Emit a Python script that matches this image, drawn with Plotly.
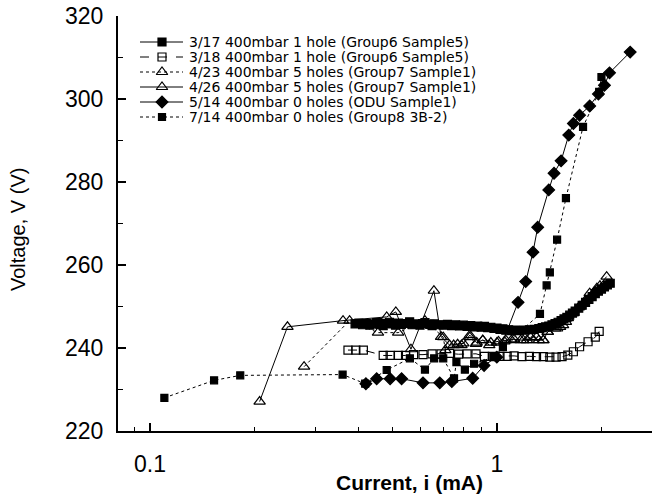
import plotly.graph_objects as go

# ---------------- data ----------------
s317_x = [0.39,0.40,0.41,0.42,0.43,0.44,0.45,0.46,0.47,0.48,0.49,0.50,0.51,0.52,0.53,0.54,0.56,0.57,0.58,0.60,
          0.61,0.62,0.64,0.65,0.66,0.68,0.70,0.72,0.74,0.76,0.78,0.80,0.82,0.84,0.86,0.88,0.90,0.92,0.94,0.96,
          0.98,1.00,1.02,1.04,1.06,1.08,1.10,1.13,1.16,1.20,1.24,1.28,1.32,1.35,1.38,1.41,1.44,1.47,1.50,1.53,
          1.56,1.59,1.62,1.65,1.68,1.72,1.76,1.80,1.84,1.88,1.92,1.96,2.00,2.04,2.08,2.12]
s317_y = [245.8,246.0,245.6,245.9,245.5,245.8,246.1,245.7,245.4,245.9,
          246.2,245.8,245.5,246.0,245.7,245.9,246.3,245.6,245.8,245.5,
          245.9,246.1,245.7,245.4,245.8,245.6,245.5,245.7,245.4,245.6,
          245.3,245.5,245.2,245.4,245.1,245.3,245.0,245.2,244.9,245.0,
          244.7,244.8,244.5,244.6,244.3,244.4,244.2,
          244.3,244.2,244.3,244.4,244.5,244.7,244.9,245.1,245.3,245.6,245.9,246.2,246.6,247.0,
          247.4,247.9,248.4,248.9,249.6,250.3,251.0,251.7,252.4,253.1,253.7,254.2,254.7,255.2,255.6]

s318_x = [0.372,0.392,0.412,0.470,0.492,0.520,0.545,0.575,0.612,0.650,0.690,0.730,0.775,0.820,0.870,0.920,0.970,
          1.020,1.070,1.120,1.180,1.240,1.300,1.360,1.420,1.480,1.540,1.600,1.660,1.730,1.830,1.920,1.970]
s318_y = [239.5,239.5,239.5,238.2,238.2,238.2,238.2,238.4,238.4,238.6,238.6,238.7,238.5,238.6,238.6,238.0,238.0,
          238.0,238.0,238.1,237.9,238.0,237.9,237.9,237.8,237.8,237.9,238.3,239.1,240.3,241.5,242.6,244.0]

s423_x = [0.278,0.376,0.454,0.519,0.620,0.700,0.710,0.750,0.790,0.835,0.870,0.910,0.950,1.000,1.050,
          1.100,1.190,1.250,1.300,1.360,1.400,1.490,1.550,1.600,1.660,1.720,1.800,1.900,1.980]
s423_y = [235.5,246.6,243.7,243.7,246.6,242.6,239.5,240.7,240.7,242.6,241.0,241.9,240.7,241.3,241.6,
          241.9,241.9,242.6,242.6,241.9,243.9,244.7,245.5,247.2,248.4,249.8,251.5,253.3,255.0]

s426_x = [0.207,0.249,0.360,0.481,0.511,0.565,0.658,0.690,0.730,0.770,0.800,0.835,0.874,0.910,0.960,1.010,
          1.060,1.120,1.170,1.220,1.270,1.320,1.360,1.400,1.470,1.520,1.580,1.650,1.730,1.850,1.940,2.070]
s426_y = [227.1,245.1,246.6,247.5,248.7,239.7,253.8,242.7,240.7,240.9,241.1,243.1,241.3,241.9,241.3,241.6,
          241.9,242.1,241.9,241.9,241.9,241.9,241.9,243.9,244.7,245.1,246.3,248.4,250.0,253.2,254.4,257.2]

s514_x = [0.419,0.450,0.492,0.531,0.612,0.684,0.741,0.851,0.918,0.999,1.15,1.21,1.27,1.31,1.41,1.46,1.53,
          1.61,1.66,1.73,1.85,1.96,2.04,2.11,2.42]
s514_y = [231.4,232.6,232.6,232.6,231.6,231.6,231.9,232.7,235.8,237.8,251.0,256.0,263.1,269.1,278.1,282.1,285.1,
          291.3,294.1,296.1,298.3,301.2,303.3,306.3,311.3]

s714_x = [0.110,0.153,0.182,0.359,0.417,0.481,0.561,0.620,0.659,0.700,0.752,0.764,0.808,0.859,0.976,
          1.04,1.33,1.39,1.42,1.49,1.58,1.77,1.97,2.00]
s714_y = [228.0,232.2,233.4,233.6,231.4,234.7,237.5,234.8,237.5,237.5,232.7,236.6,234.8,236.2,237.8,
          240.2,248.2,255.1,258.2,266.1,276.1,293.3,301.7,305.3]

labels = ["3/17 400mbar 1 hole (Group6 Sample5)",
          "3/18 400mbar 1 hole (Group6 Sample5)",
          "4/23 400mbar 5 holes (Group7 Sample1)",
          "4/26 400mbar 5 holes (Group7 Sample1)",
          "5/14 400mbar 0 holes (ODU Sample1)",
          "7/14 400mbar 0 holes (Group8 3B-2)"]

y_ticks = [220, 240, 260, 280, 300, 320]
x_ticks = [0.1, 1]
x_ticktext = ["0.1", "1"]
x_minor = [0.09, 0.2, 0.3, 0.4, 0.5, 0.6, 0.7, 0.8, 0.9, 2]

# ---------------- styles ----------------
styles = {
    0: dict(symbol="square", size=8, fill="black", dash="solid"),
    1: dict(symbol="square-open", size=8, fill="black", dash="dash"),
    2: dict(symbol="triangle-up-open", size=10, fill="black", dash="dot"),
    3: dict(symbol="triangle-up-open", size=10, fill="black", dash="solid"),
    4: dict(symbol="diamond", size=9, fill="black", dash="solid"),
    5: dict(symbol="square", size=7, fill="black", dash="dot"),
}
series = {0: (s317_x, s317_y), 1: (s318_x, s318_y), 2: (s423_x, s423_y),
          3: (s426_x, s426_y), 4: (s514_x, s514_y), 5: (s714_x, s714_y)}

FONT = "Liberation Sans, Arial, sans-serif"
LFONT = "DejaVu Sans, sans-serif"
fig = go.Figure()

for idx in [5, 4, 1, 0, 2, 3]:
    st = styles[idx]
    xs, ys = series[idx]
    fig.add_trace(go.Scatter(
        x=xs, y=ys, mode="lines+markers", name=labels[idx], showlegend=False,
        line=dict(color="black", width=1, dash=st["dash"]),
        marker=dict(symbol=st["symbol"], size=st["size"], color=st["fill"],
                    line=dict(color="black", width=1.2)),
    ))

# ---------------- hand-made legend (pixel coordinates on overlay axes) ----------------
L_LEFT, L_RIGHT, L_MARK, L_TEXT = 140, 183, 162, 187
ROW0, ROWSTEP = 42, 15
annotations = []
for i in range(6):
    st = styles[i]
    yy = ROW0 + ROWSTEP * i
    fig.add_trace(go.Scatter(
        x=[L_LEFT, L_RIGHT], y=[yy, yy], xaxis="x2", yaxis="y2", mode="lines",
        line=dict(color="black", width=1, dash=st["dash"]), showlegend=False, hoverinfo="skip"))
    fig.add_trace(go.Scatter(
        x=[L_MARK], y=[yy], xaxis="x2", yaxis="y2", mode="markers", showlegend=False, hoverinfo="skip",
        marker=dict(symbol=st["symbol"], size=st["size"], color=st["fill"], line=dict(color="black", width=1.2))))
    annotations.append(dict(x=L_TEXT, y=yy, xref="x2", yref="y2", text=labels[i], showarrow=False,
                            xanchor="left", yanchor="middle", font=dict(family=LFONT, size=14, color="black")))

PL, PR, PT, PB = 118, 652, 16, 431
annotations.append(dict(x=(409 - PL) / (PR - PL), y=(PB - 482) / (PB - PT), xref="paper", yref="paper",
                        text="<b>Current, i (mA)</b>", showarrow=False, xanchor="center", yanchor="middle",
                        font=dict(family=FONT, size=21, color="black")))
annotations.append(dict(x=(18 - PL) / (PR - PL), y=(PB - 230) / (PB - PT), xref="paper", yref="paper",
                        text="Voltage, V (V)", textangle=-90, showarrow=False, xanchor="center",
                        yanchor="middle", font=dict(family=FONT, size=20, color="black")))

fig.update_layout(
    width=652, height=499,
    margin=dict(l=PL, r=652 - PR, t=PT, b=499 - PB, pad=0),
    paper_bgcolor="white", plot_bgcolor="white",
    font=dict(family=FONT, color="black"),
    showlegend=False,
    annotations=annotations,
    xaxis=dict(type="log", range=[-1.0922, 0.4467], showline=True, linecolor="black", linewidth=1.5,
               ticks="inside", ticklen=8, tickwidth=1.5, tickcolor="black",
               tickvals=x_ticks, ticktext=x_ticktext, tickfont=dict(size=23, family=FONT),
               minor=dict(tickvals=x_minor, ticks="inside", ticklen=4, tickwidth=1, tickcolor="black"),
               showgrid=False, zeroline=False, ticklabelstandoff=12),
    yaxis=dict(range=[220, 320], showline=True, linecolor="black", linewidth=2,
               ticks="inside", ticklen=8, tickwidth=1.5, tickcolor="black",
               tickvals=y_ticks, tickfont=dict(size=23, family=FONT),
               minor=dict(dtick=10, ticks="inside", ticklen=5, tickwidth=1, tickcolor="black"),
               showgrid=False, zeroline=False, ticklabelstandoff=8),
    xaxis2=dict(overlaying="x", range=[PL, PR], visible=False, fixedrange=True),
    yaxis2=dict(overlaying="y", range=[PB, PT], visible=False, fixedrange=True),
)

fig.write_html("out.html")
